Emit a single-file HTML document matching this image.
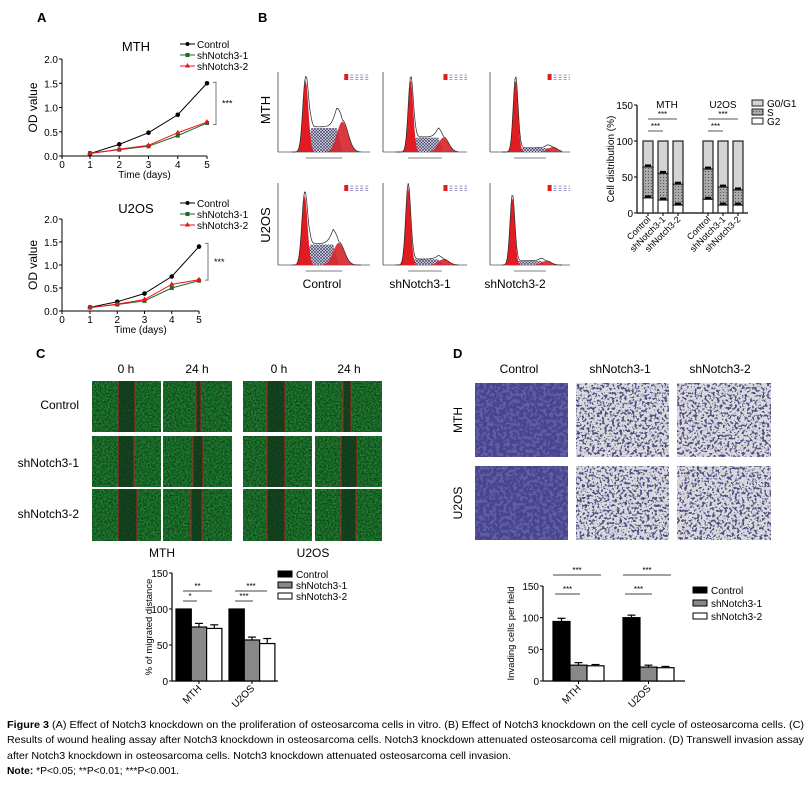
<!DOCTYPE html>
<html><head><meta charset="utf-8"><style>
html,body{margin:0;padding:0;background:#fff}
svg{display:block;font-family:"Liberation Sans",Arial,sans-serif}
</style></head><body>
<svg id="fig" width="808" height="785" viewBox="0 0 808 785" xmlns="http://www.w3.org/2000/svg">
<defs>
<filter id="grn" x="0" y="0" width="100%" height="100%" color-interpolation-filters="sRGB"><feTurbulence type="fractalNoise" baseFrequency="0.6" numOctaves="2" seed="3"/><feColorMatrix type="matrix" values="0 0 0 0.15 0.02  0 0 0 0.55 0.12  0 0 0 0.2 0.05  0 0 0 0 1"/></filter>
<filter id="pur" x="0" y="0" width="100%" height="100%" color-interpolation-filters="sRGB"><feTurbulence type="fractalNoise" baseFrequency="0.3" numOctaves="2" seed="7"/><feColorMatrix type="matrix" values="0 0 0 0 0.25  0 0 0 0 0.23  0 0 0 0 0.55  0 0 0 -9 5.3"/></filter>
<filter id="pur2" x="0" y="0" width="100%" height="100%" color-interpolation-filters="sRGB"><feTurbulence type="fractalNoise" baseFrequency="0.4" numOctaves="2" seed="11"/><feColorMatrix type="matrix" values="0 0 0 0 0.22  0 0 0 0 0.22  0 0 0 0 0.45  0 0 0 -12 5.7"/></filter>
<pattern id="hatch" width="3" height="3" patternUnits="userSpaceOnUse"><rect width="3" height="3" fill="#dde"/><path d="M0 0L3 3M3 0L0 3" stroke="#335" stroke-width="0.6"/></pattern>
<pattern id="dots" width="3" height="3" patternUnits="userSpaceOnUse"><rect width="3" height="3" fill="#aaa"/><rect width="1" height="1" fill="#555"/></pattern>
</defs>
<g id="root"></g>
<text x="37" y="22" font-weight="bold" font-size="13">A</text>
<text x="258" y="22" font-weight="bold" font-size="13">B</text>
<text x="36" y="358" font-weight="bold" font-size="13">C</text>
<text x="453" y="358" font-weight="bold" font-size="13">D</text>
</svg>
<script>
// ===== Panel A data =====
const aDays=[1,2,3,4,5];
const mthControl=[0.05,0.24,0.48,0.85,1.5];
const mthSh1=[0.06,0.13,0.2,0.42,0.68];
const mthSh2=[0.05,0.14,0.22,0.48,0.7];
const u2Control=[0.08,0.2,0.38,0.75,1.4];
const u2Sh1=[0.08,0.14,0.22,0.5,0.66];
const u2Sh2=[0.07,0.15,0.25,0.58,0.68];
const aYTicks=[0,0.5,1,1.5,2];
const aXTicks=[0,1,2,3,4,5];
const seriesNames=["Control","shNotch3-1","shNotch3-2"];
// ===== Panel B data =====
const bCats=["Control","shNotch3-1","shNotch3-2"];
const bMthG2=[21,18,11];
const bMthS=[43,37,29];
const bU2G2=[19,11,11];
const bU2S=[42,25,21];
const bYTicks=[0,50,100,150];
// ===== Panel C data =====
const cGroups=["MTH","U2OS"];
const cControl=[100,100];
const cSh1=[75,57];
const cSh2=[73,52];
const cErr1=[5,4];
const cErr2=[5,7];
const cYTicks=[0,50,100,150];
// ===== Panel D data =====
const dGroups=["MTH","U2OS"];
const dControl=[94,100];
const dSh1=[25,22];
const dSh2=[24,21];
const dErrC=[5,4];
const dErr1=[4,3];
const dErr2=[2,2];
const dYTicks=[0,50,100,150];

const NS="http://www.w3.org/2000/svg";
const root=document.getElementById('root');
function el(tag,attrs,parent,txt){const e=document.createElementNS(NS,tag);for(const k in attrs)e.setAttribute(k,attrs[k]);if(txt!==undefined)e.textContent=txt;(parent||root).appendChild(e);return e;}
function grp(name){const g=el('g',{});return g;}

// ---------- Panel A ----------
function lineChart(name,title,yTop,y0,x1,x5,ctrl,s1,s2,titleY,legY,sigTop,sigBot){
  const g=grp(name);
  const axX=62;
  const unit=(x5-x1)/4;
  const sx=d=>x1+(d-1)*unit;
  const sy=v=>y0-(v/2)*(y0-yTop);
  el('line',{x1:axX,y1:yTop,x2:axX,y2:y0,stroke:'#000','stroke-width':1},g);
  el('line',{x1:axX,y1:y0,x2:sx(5),y2:y0,stroke:'#000','stroke-width':1},g);
  aYTicks.forEach(v=>{el('line',{x1:axX-3,y1:sy(v),x2:axX,y2:sy(v),stroke:'#000'},g);
    const t=el('text',{x:axX-4,y:sy(v)+4,'font-size':10,'text-anchor':'end'},g,v.toFixed(1));
    });
  aXTicks.forEach(d=>{const x=d===0?axX:sx(d);el('line',{x1:x,y1:y0,x2:x,y2:y0+3,stroke:'#000'},g);
    const t=el('text',{x:x,y:y0+12,'font-size':10,'text-anchor':'middle'},g,String(d));
    });
  const xt=el('text',{x:(axX+sx(5))/2+10,y:y0+22,'font-size':10,'text-anchor':'middle'},g,'Time (days)');
  
  const yt=el('text',{x:0,y:0,'font-size':12,'text-anchor':'middle',transform:`translate(37 ${(yTop+y0)/2}) rotate(-90)`},g,'OD value');
  
  const tt=el('text',{x:136,y:titleY,'font-size':13,'text-anchor':'middle'},g,title);
  
  const cols=['#000','#1d6a2a','#e8141b'];
  [ctrl,s1,s2].forEach((arr,i)=>{
    const pts=arr.map((v,j)=>`${sx(aDays[j])},${sy(v)}`).join(' ');
    const pl=el('polyline',{points:pts,fill:'none',stroke:cols[i],'stroke-width':1},g);
    
    arr.forEach((v,j)=>{let m;
      if(i===0)m=el('circle',{cx:sx(aDays[j]),cy:sy(v),r:2.3,fill:cols[i]},g);
      else if(i===1)m=el('rect',{x:sx(aDays[j])-2,y:sy(v)-2,width:4,height:4,fill:cols[i]},g);
      else m=el('path',{d:`M${sx(aDays[j])},${sy(v)-3}l2.6,4.5h-5.2z`,fill:cols[i]},g);
      });
  });
  seriesNames.forEach((n,i)=>{const y=legY+i*11;
    el('line',{x1:180,y1:y,x2:195,y2:y,stroke:cols[i]},g);
    if(i===0)el('circle',{cx:187.5,cy:y,r:2,fill:cols[i]},g);else if(i===1)el('rect',{x:185.5,y:y-2,width:4,height:4,fill:cols[i]},g);else el('path',{d:`M187.5,${y-3}l2.6,4.5h-5.2z`,fill:cols[i]},g);
    const t=el('text',{x:197,y:y+4,'font-size':10},g,n);});
  const bx=sx(5)+9;
  el('path',{d:`M${bx-3},${sy(sigTop)}h3V${sy(sigBot)}h-3`,fill:'none',stroke:'#777'},g);
  el('text',{x:bx+6,y:(sy(sigTop)+sy(sigBot))/2+3,'font-size':9},g,'***');
}
lineChart('mth-proliferation-chart','MTH',59,156,90,207,mthControl,mthSh1,mthSh2,51,44,1.52,0.65);
lineChart('u2os-proliferation-chart','U2OS',219,311,90,199,u2Control,u2Sh1,u2Sh2,213,203,1.47,0.67);

// ---------- Panel B flow histograms ----------
const flowPanels=[
 {x:278,y:72,w:92,h:80,g1:0.3,a1:0.9,sAmp:0.3,g2:0.7,a2:0.38},
 {x:383,y:72,w:84,h:80,g1:0.33,a1:0.9,sAmp:0.18,g2:0.72,a2:0.18},
 {x:490,y:72,w:80,h:80,g1:0.32,a1:0.9,sAmp:0.05,g2:0.78,a2:0.06},
 {x:278,y:183,w:92,h:82,g1:0.29,a1:0.85,sAmp:0.25,g2:0.66,a2:0.27},
 {x:383,y:183,w:84,h:82,g1:0.3,a1:0.95,sAmp:0.07,g2:0.72,a2:0.07},
 {x:490,y:183,w:80,h:82,g1:0.28,a1:0.82,sAmp:0.05,g2:0.7,a2:0.05}];
flowPanels.forEach((p,k)=>{
  const g=grp('flow-histogram');
  el('line',{x1:p.x,y1:p.y,x2:p.x,y2:p.y+p.h,stroke:'#000','stroke-width':0.6},g);
  el('line',{x1:p.x,y1:p.y+p.h,x2:p.x+p.w,y2:p.y+p.h,stroke:'#000','stroke-width':0.6},g);
  const X=t=>p.x+t*p.w, Y=v=>p.y+p.h-v*p.h;
  const gauss=(t,m,s,a)=>a*Math.exp(-((t-m)*(t-m))/(2*s*s));
  let g1='',s='',g2='',tot='';
  for(let i=0;i<=60;i++){const t=0.15+i*0.75/60;
    const v1=gauss(t,p.g1,0.03,p.a1),v2=gauss(t,p.g2,0.06,p.a2);
    const vs=(t>p.g1&&t<p.g2)?p.sAmp*Math.min(1,(t-p.g1)/0.06)*Math.min(1,(p.g2-t)/0.06):0;
    g1+=`${X(t)},${Y(v1)} `;g2+=`${X(t)},${Y(v2)} `;s+=`${X(t)},${Y(vs)} `;tot+=`${X(t)},${Y(Math.min(1,v1+v2+vs)*1.05)} `;}
  el('polygon',{points:`${X(0.15)},${Y(0)} ${s} ${X(0.9)},${Y(0)}`,fill:'url(#hatch)'},g);
  el('polygon',{points:`${X(0.15)},${Y(0)} ${g1} ${X(0.9)},${Y(0)}`,fill:'#e01c22'},g);
  el('polygon',{points:`${X(0.15)},${Y(0)} ${g2} ${X(0.9)},${Y(0)}`,fill:'#d6232a','fill-opacity':0.9},g);
  el('polyline',{points:tot,fill:'none',stroke:'#222','stroke-width':0.7},g);
  el('rect',{x:p.x+p.w*0.72,y:p.y+2,width:4,height:6,fill:'#e01c22'},g);
  for(let r=0;r<3;r++)el('line',{x1:p.x+p.w*0.72+6,y1:p.y+3+r*2.3,x2:p.x+p.w,y2:p.y+3+r*2.3,stroke:'#7a7ab8','stroke-width':0.8,'stroke-dasharray':'3 2'},g);
  el('line',{x1:p.x+p.w*0.3,y1:p.y+p.h+6,x2:p.x+p.w*0.7,y2:p.y+p.h+6,stroke:'#999','stroke-width':1.2},g);
});
[['MTH',110],['U2OS',225]].forEach(([t,y])=>{const e=el('text',{'font-size':13,'text-anchor':'middle',transform:`translate(270 ${y}) rotate(-90)`},null,t);});
[['Control',322],['shNotch3-1',420],['shNotch3-2',515]].forEach(([t,x])=>{const e=el('text',{x:x,y:288,'font-size':12,'text-anchor':'middle'},null,t);});

// ---------- Panel B stacked bar chart ----------
(function(){
  const g=grp('cell-distribution-chart');
  const axX=637,y0=213,yTop=105;
  const sy=v=>y0-(v/150)*(y0-yTop);
  const barX=[643,658,673,703,718,733], bw=10;
  el('line',{x1:axX,y1:yTop,x2:axX,y2:y0,stroke:'#000','stroke-width':1.2},g);
  el('line',{x1:axX,y1:y0,x2:748,y2:y0,stroke:'#000','stroke-width':1.2},g);
  bYTicks.forEach(v=>{el('line',{x1:axX-3,y1:sy(v),x2:axX,y2:sy(v),stroke:'#000'},g);
    const t=el('text',{x:axX-4,y:sy(v)+4,'font-size':10,'text-anchor':'end'},g,String(v));});
  const yt=el('text',{'font-size':10,'text-anchor':'middle',transform:`translate(614 ${(yTop+y0)/2}) rotate(-90)`},g,'Cell distribution (%)');
  
  const g2=bMthG2.concat(bU2G2), sP=bMthS.concat(bU2S);
  g2.forEach((v,i)=>{const x=barX[i];
    const r1=el('rect',{x:x,y:sy(100),width:bw,height:sy(v+sP[i])-sy(100),fill:'#d4d4d4',stroke:'#222','stroke-width':1.2},g);
    
    const r2=el('rect',{x:x,y:sy(v+sP[i]),width:bw,height:sy(v)-sy(v+sP[i]),fill:'url(#dots)',stroke:'#222','stroke-width':1.2},g);
    
    const r3=el('rect',{x:x,y:sy(v),width:bw,height:y0-sy(v),fill:'#fff',stroke:'#222','stroke-width':1.2},g);
    
    el('line',{x1:x+2,y1:sy(v+sP[i])-1.5,x2:x+bw-2,y2:sy(v+sP[i])-1.5,stroke:'#000','stroke-width':2},g);
    el('line',{x1:x+2,y1:sy(v)-1.5,x2:x+bw-2,y2:sy(v)-1.5,stroke:'#000','stroke-width':2},g);
    el('line',{x1:x+bw/2,y1:y0,x2:x+bw/2,y2:y0+3,stroke:'#000'},g);
    const t=el('text',{'font-size':9,'text-anchor':'end',transform:`translate(${x+bw/2+3} ${y0+7}) rotate(-45)`},g,bCats[i%3]);
    });
  el('text',{x:667,y:108,'font-size':10,'text-anchor':'middle'},g,'MTH');
  el('text',{x:723,y:108,'font-size':10,'text-anchor':'middle'},g,'U2OS');
  [[648,677,119],[648,663,131],[708,738,119],[708,723,131]].forEach(([a,b,y])=>{el('line',{x1:a,y1:y,x2:b,y2:y,stroke:'#555'},g);el('text',{x:(a+b)/2,y:y-2,'font-size':8,'text-anchor':'middle'},g,'***');});
  [['G0/G1','#d4d4d4',104],['S','url(#dots)',113],['G2','#fff',122]].forEach(([n,f,y])=>{
    el('rect',{x:752,y:y-4,width:11,height:6,fill:f,stroke:'#222'},g);
    const t=el('text',{x:767,y:y+3,'font-size':10},g,n);});
})();

// ---------- Panel C images ----------
const cCols=[[92,161],[163,232],[243,312],[315,382]];
const cRows=[[381,432],[436,487],[489,541]];
const cGap=[[118,135],[196,201],[267,285],[343,351],[118,134],[193,203],[267,285],[341,357],[118,137],[191,202],[267,285],[341,356]];
cRows.forEach((r,ri)=>cCols.forEach((c,ci)=>{
  const g=grp('wound-healing-image');
  el('rect',{x:c[0],y:r[0],width:c[1]-c[0],height:r[1]-r[0],fill:'#1d4f24'},g);
  el('rect',{x:c[0],y:r[0],width:c[1]-c[0],height:r[1]-r[0],filter:'url(#grn)'},g);
  const gp=cGap[ri*4+ci];
  el('rect',{x:gp[0],y:r[0],width:gp[1]-gp[0],height:r[1]-r[0],fill:'#10301a',opacity:0.7},g);
  el('line',{x1:gp[0],y1:r[0],x2:gp[0],y2:r[1],stroke:'#e8141b','stroke-width':0.8},g);
  el('line',{x1:gp[1],y1:r[0],x2:gp[1],y2:r[1],stroke:'#e8141b','stroke-width':0.8},g);
}));
[['0 h',126],['24 h',197],['0 h',279],['24 h',349]].forEach(([t,x])=>{const e=el('text',{x:x,y:373,'font-size':12,'text-anchor':'middle'},null,t);});
[['Control',409],['shNotch3-1',467],['shNotch3-2',518]].forEach(([t,y])=>{const e=el('text',{x:79,y:y,'font-size':12,'text-anchor':'end'},null,t);});
[['MTH',162],['U2OS',313]].forEach(([t,x])=>{const e=el('text',{x:x,y:557,'font-size':12,'text-anchor':'middle'},null,t);});

// ---------- grouped bar chart helper ----------
function barChart(name,cfg){
  const g=grp(name);
  const sy=v=>cfg.y0-(v/150)*(cfg.y0-cfg.yTop);
  el('line',{x1:cfg.axX,y1:cfg.yTop,x2:cfg.axX,y2:cfg.y0,stroke:'#000','stroke-width':1.2},g);
  el('line',{x1:cfg.axX,y1:cfg.y0,x2:cfg.axEnd,y2:cfg.y0,stroke:'#000','stroke-width':1.2},g);
  cfg.ticks.forEach(v=>{el('line',{x1:cfg.axX-3,y1:sy(v),x2:cfg.axX,y2:sy(v),stroke:'#000'},g);
    const t=el('text',{x:cfg.axX-4,y:sy(v)+4,'font-size':10,'text-anchor':'end'},g,String(v));});
  const yt=el('text',{'font-size':9.5,'text-anchor':'middle',transform:`translate(${cfg.yLabX} ${(cfg.yTop+cfg.y0)/2}) rotate(-90)`},g,cfg.yLabel);
  
  const fills=['#000','#888','#fff'];
  cfg.groups.forEach((gname,gi)=>{
    cfg.series.forEach((arr,si)=>{const x=cfg.groupX[gi]+si*cfg.bw;
      const r=el('rect',{x:x,y:sy(arr[gi]),width:cfg.bw,height:cfg.y0-sy(arr[gi]),fill:fills[si],stroke:'#000','stroke-width':1.2},g);
      
      const e=cfg.errs[si][gi];
      if(e){el('line',{x1:x+cfg.bw/2,y1:sy(arr[gi]),x2:x+cfg.bw/2,y2:sy(arr[gi]+e),stroke:'#000','stroke-width':1.2},g);
        el('line',{x1:x+cfg.bw/2-4,y1:sy(arr[gi]+e),x2:x+cfg.bw/2+4,y2:sy(arr[gi]+e),stroke:'#000','stroke-width':1.2},g);}
    });
    const cx=cfg.groupX[gi]+cfg.bw*1.5;
    el('line',{x1:cx,y1:cfg.y0,x2:cx,y2:cfg.y0+3,stroke:'#000'},g);
    const t=el('text',{'font-size':10,'text-anchor':'end',transform:`translate(${cx+3} ${cfg.y0+8}) rotate(-45)`},g,gname);
    
  });
  cfg.sig.forEach(([a,b,y,s])=>{el('line',{x1:a,y1:y,x2:b,y2:y,stroke:'#444'},g);el('text',{x:(a+b)/2,y:y-2,'font-size':8,'text-anchor':'middle'},g,s);});
  seriesNames.forEach((n,i)=>{const y=cfg.legY+i*cfg.legDy;
    el('rect',{x:cfg.legX,y:y-4,width:14,height:6,fill:fills[i],stroke:'#000'},g);
    const t=el('text',{x:cfg.legX+18,y:y+3,'font-size':10},g,n);});
}
barChart('migration-chart',{axX:172,axEnd:278,y0:681,yTop:573,ticks:cYTicks,yLabX:152,yLabel:'% of migrated distance',
  groups:cGroups,groupX:[176,229],bw:15.3,series:[cControl,cSh1,cSh2],errs:[[0,0],cErr1,cErr2],
  sig:[[183,212,591,'**'],[183,197,601,'*'],[235,267,591,'***'],[235,253,601,'***']],legX:278,legY:575,legDy:11});

// ---------- Panel D images ----------
const dCols=[[475,568],[576,669],[677,771]];
const dRows=[[383,457],[466,540]];
dRows.forEach((r,ri)=>dCols.forEach((c,ci)=>{
  const g=grp('transwell-image');
  el('rect',{x:c[0],y:r[0],width:c[1]-c[0],height:r[1]-r[0],fill:ci===0?'#625fa0':'#d9d9de'},g);
  el('rect',{x:c[0],y:r[0],width:c[1]-c[0],height:r[1]-r[0],filter:ci===0?'url(#pur)':'url(#pur2)',opacity:ci===0?0.75:0.85},g);
}));
[['Control',519],['shNotch3-1',620],['shNotch3-2',720]].forEach(([t,x])=>{const e=el('text',{x:x,y:373,'font-size':12,'text-anchor':'middle'},null,t);});
[['MTH',420],['U2OS',503]].forEach(([t,y])=>{const e=el('text',{'font-size':12,'text-anchor':'middle',transform:`translate(462 ${y}) rotate(-90)`},null,t);});

barChart('invasion-chart',{axX:543,axEnd:685,y0:681,yTop:586,ticks:dYTicks,yLabX:514,yLabel:'Invading cells per field',
  groups:dGroups,groupX:[553,623],bw:17,series:[dControl,dSh1,dSh2],errs:[dErrC,dErr1,dErr2],
  sig:[[553,601,575,'***'],[555,580,594,'***'],[623,671,575,'***'],[625,652,594,'***']],legX:693,legY:591,legDy:13});

// ---------- Caption ----------
const cap=grp('figure-caption');
const lines=[
 [728,[['Figure 3 ','bold'],['(A) Effect of Notch3 knockdown on the proliferation of osteosarcoma cells in vitro. (B) Effect of Notch3 knockdown on the cell cycle of osteosarcoma cells. (C)','']],797],
 [743,[['Results of wound healing assay after Notch3 knockdown in osteosarcoma cells. Notch3 knockdown attenuated osteosarcoma cell migration. (D) Transwell invasion assay','']],797],
 [759,[['after Notch3 knockdown in osteosarcoma cells. Notch3 knockdown attenuated osteosarcoma cell invasion.','']],504],
 [774,[['Note: ','bold'],['*P<0.05; **P<0.01; ***P<0.001.','']],172]];
lines.forEach(([y,parts,len])=>{
  const t=el('text',{x:7,y:y,'font-size':10.5,textLength:len,lengthAdjust:'spacingAndGlyphs'},cap);
  parts.forEach(([s,w])=>{el('tspan',w?{'font-weight':'bold'}:{},t,s);});
  
});
</script>
</body></html>
